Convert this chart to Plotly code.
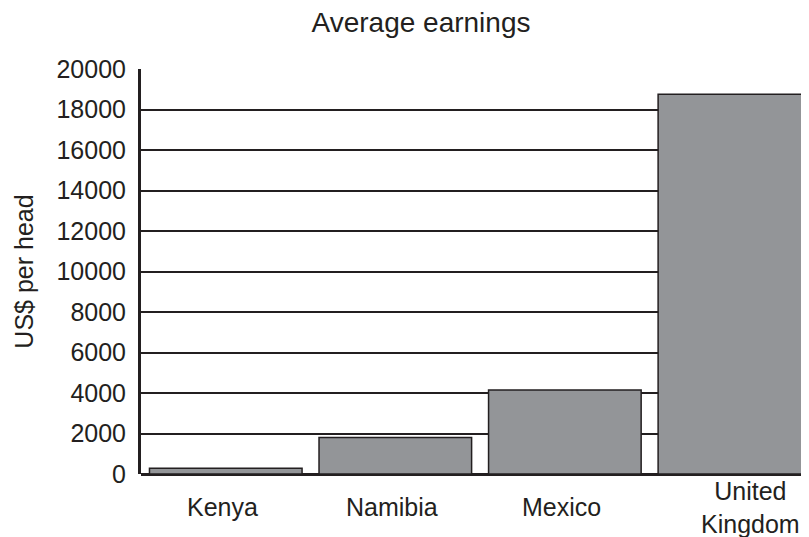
import plotly.graph_objects as go

countries = ["Kenya", "Namibia", "Mexico", "United Kingdom"]
tick_labels = ["Kenya", "Namibia", "Mexico", "United<br>Kingdom"]
earnings = [280, 1800, 4150, 18750]
y_ticks = [0, 2000, 4000, 6000, 8000, 10000, 12000, 14000, 16000, 18000, 20000]

INK = "#231f20"
FONT = "Liberation Sans, Arial, Helvetica, sans-serif"

# the page places the figure 8px in from the top-left corner
W, H = 801, 529

fig = go.Figure()
fig.add_trace(go.Bar(
    x=countries,
    y=earnings,
    marker=dict(color="#939598", line=dict(color=INK, width=1.5)),
    showlegend=False,
))

# category labels centred vertically below the axis (as in reference)
for i, (c, lab) in enumerate(zip(countries, tick_labels)):
    fig.add_annotation(
        x=c, y=0, xref="x", yref="y",
        text=lab, showarrow=False,
        yanchor="middle", yshift=-33,
        xshift=16 if i == len(countries) - 1 else -3,
        font=dict(family=FONT, size=25, color=INK),
    )

fig.update_layout(
    width=W, height=H,
    margin=dict(l=133, r=0, t=61, b=63),
    paper_bgcolor="white", plot_bgcolor="white",
    bargap=0.1,
    font=dict(family=FONT, size=25, color=INK),
    title=dict(
        text="Average earnings",
        x=413 / W, xanchor="center", xref="container",
        y=1 - 14 / H, yanchor="middle", yref="container",
        font=dict(family=FONT, size=28, color=INK),
    ),
    xaxis=dict(
        type="category",
        range=[-0.5, 3.44],
        showticklabels=False,
        ticks="",
        showgrid=False,
        showline=False,
        zeroline=False,
    ),
    yaxis=dict(
        range=[0, 20000],
        tickvals=y_ticks,
        ticktext=[str(v) for v in y_ticks],
        showgrid=True, gridcolor=INK, gridwidth=2,
        showline=True, linecolor=INK, linewidth=3,
        zeroline=True, zerolinecolor=INK, zerolinewidth=3,
        ticks="", ticklabelstandoff=7,
        tickfont=dict(family=FONT, size=25, color=INK),
        title=dict(text="US$ per head", standoff=16,
                   font=dict(family=FONT, size=25, color=INK)),
    ),
)

fig.write_html("out.html")
